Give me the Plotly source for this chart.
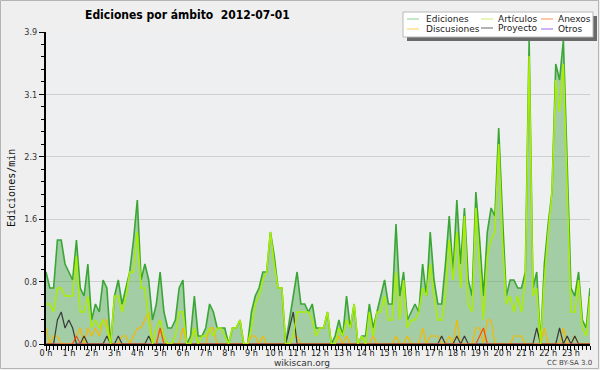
import plotly.graph_objects as go

# ---------------- data (edits per minute, one value per 10-minute slot) ----------------
hour_labels = [f"{h} h" for h in range(24)]
slot_hours = [i / 6 for i in range(144)]

ediciones = [
    0.9, 0.7, 0.7, 1.3, 1.3, 1.0, 0.9, 0.8, 1.3, 0.7,
    0.6, 1.0, 0.3, 0.5, 0.4, 0.8, 0.7, 0.0, 0.6, 0.8,
    0.5, 0.7, 0.9, 1.3, 1.8, 0.8, 1.0, 0.8, 0.3, 0.5,
    0.9, 0.4, 0.2, 0.2, 0.3, 0.7, 0.8, 0.0, 0.1, 0.6,
    0.1, 0.1, 0.2, 0.5, 0.4, 0.2, 0.2, 0.2, 0.0, 0.2,
    0.2, 0.3, 0.0, 0.0, 0.4, 0.6, 0.7, 0.9, 0.9, 1.4,
    1.1, 0.7, 0.7, 0.0, 0.3, 0.6, 0.9, 0.5, 0.5, 0.4,
    0.5, 0.2, 0.2, 0.2, 0.4, 0.0, 0.1, 0.3, 0.1, 0.6,
    0.2, 0.5, 0.0, 0.1, 0.1, 0.5, 0.2, 0.4, 0.6, 0.8,
    0.5, 0.5, 1.5, 0.6, 0.9, 0.3, 0.4, 0.5, 0.4, 1.0,
    0.6, 1.4, 0.8, 0.5, 0.5, 1.0, 1.6, 0.9, 1.8, 1.0,
    1.7, 0.8, 0.6, 1.9, 1.3, 0.6, 1.4, 1.7, 1.6, 2.7,
    1.6, 0.6, 0.8, 0.8, 0.7, 0.7, 0.9, 3.8, 0.7, 0.9,
    0.0, 1.0, 1.5, 1.9, 3.5, 3.3, 3.8, 2.2, 0.7, 0.6,
    0.9, 0.3, 0.2, 0.7,
]

articulos = [
    0.5, 0.5, 0.4, 0.7, 0.7, 0.6, 0.6, 0.6, 1.1, 0.4,
    0.4, 0.6, 0.2, 0.3, 0.2, 0.3, 0.2, 0.0, 0.6, 0.6,
    0.4, 0.6, 0.9, 0.9, 1.4, 0.7, 0.7, 0.3, 0.0, 0.2,
    0.3, 0.1, 0.0, 0.0, 0.1, 0.4, 0.4, 0.0, 0.0, 0.2,
    0.0, 0.1, 0.1, 0.2, 0.1, 0.2, 0.2, 0.1, 0.0, 0.2,
    0.2, 0.3, 0.0, 0.0, 0.2, 0.5, 0.6, 0.8, 0.9, 1.4,
    1.0, 0.7, 0.7, 0.0, 0.0, 0.1, 0.4, 0.4, 0.4, 0.4,
    0.3, 0.1, 0.2, 0.2, 0.4, 0.0, 0.0, 0.2, 0.1, 0.3,
    0.2, 0.5, 0.0, 0.1, 0.0, 0.4, 0.1, 0.4, 0.4, 0.6,
    0.3, 0.3, 0.9, 0.3, 0.8, 0.2, 0.3, 0.3, 0.4, 0.7,
    0.6, 1.0, 0.6, 0.3, 0.3, 0.6, 1.3, 0.8, 1.4, 0.7,
    1.6, 0.5, 0.4, 1.7, 1.0, 0.3, 1.1, 1.3, 1.4, 2.5,
    1.3, 0.5, 0.6, 0.4, 0.6, 0.4, 0.8, 3.6, 0.6, 0.7,
    0.0, 0.8, 1.4, 1.9, 3.3, 2.9, 3.5, 1.9, 0.4, 0.4,
    0.8, 0.2, 0.1, 0.6,
]

discusiones = [
    0.2, 0.0, 0.1, 0.1, 0.0, 0.0, 0.0, 0.0, 0.1, 0.2,
    0.0, 0.2, 0.1, 0.2, 0.1, 0.3, 0.3, 0.0, 0.0, 0.0,
    0.1, 0.1, 0.0, 0.1, 0.2, 0.2, 0.3, 0.4, 0.0, 0.0,
    0.2, 0.0, 0.0, 0.0, 0.0, 0.0, 0.2, 0.0, 0.0, 0.2,
    0.0, 0.0, 0.0, 0.2, 0.2, 0.0, 0.0, 0.0, 0.0, 0.0,
    0.0, 0.0, 0.0, 0.0, 0.1, 0.1, 0.0, 0.1, 0.0, 0.0,
    0.0, 0.0, 0.0, 0.0, 0.0, 0.1, 0.1, 0.0, 0.0, 0.0,
    0.0, 0.0, 0.0, 0.0, 0.0, 0.0, 0.0, 0.1, 0.0, 0.1,
    0.0, 0.0, 0.0, 0.0, 0.0, 0.0, 0.1, 0.0, 0.0, 0.0,
    0.0, 0.0, 0.1, 0.0, 0.0, 0.1, 0.0, 0.0, 0.0, 0.2,
    0.0, 0.1, 0.1, 0.1, 0.0, 0.0, 0.1, 0.0, 0.3, 0.0,
    0.0, 0.0, 0.0, 0.2, 0.2, 0.0, 0.3, 0.3, 0.0, 0.0,
    0.0, 0.0, 0.0, 0.1, 0.1, 0.1, 0.0, 0.0, 0.0, 0.0,
    0.0, 0.2, 0.0, 0.0, 0.0, 0.0, 0.2, 0.0, 0.0, 0.1,
    0.0, 0.0, 0.0, 0.0,
]

proyecto = [
    0.0, 0.0, 0.0, 0.3, 0.4, 0.2, 0.3, 0.2, 0.0, 0.0,
    0.1, 0.0, 0.0, 0.0, 0.0, 0.0, 0.1, 0.0, 0.0, 0.1,
    0.0, 0.0, 0.0, 0.0, 0.0, 0.0, 0.0, 0.1, 0.0, 0.0,
    0.0, 0.0, 0.0, 0.0, 0.0, 0.0, 0.0, 0.0, 0.0, 0.0,
    0.0, 0.0, 0.0, 0.0, 0.0, 0.0, 0.0, 0.0, 0.0, 0.0,
    0.0, 0.0, 0.0, 0.0, 0.0, 0.0, 0.0, 0.0, 0.0, 0.0,
    0.0, 0.0, 0.0, 0.0, 0.2, 0.4, 0.0, 0.0, 0.0, 0.0,
    0.0, 0.0, 0.0, 0.0, 0.0, 0.0, 0.0, 0.0, 0.0, 0.0,
    0.0, 0.0, 0.0, 0.0, 0.0, 0.0, 0.0, 0.0, 0.0, 0.0,
    0.0, 0.0, 0.0, 0.0, 0.0, 0.0, 0.0, 0.0, 0.0, 0.0,
    0.0, 0.0, 0.0, 0.0, 0.1, 0.0, 0.0, 0.0, 0.1, 0.0,
    0.1, 0.0, 0.0, 0.0, 0.0, 0.0, 0.0, 0.0, 0.0, 0.0,
    0.0, 0.0, 0.0, 0.0, 0.0, 0.0, 0.0, 0.0, 0.0, 0.2,
    0.0, 0.0, 0.0, 0.0, 0.0, 0.2, 0.0, 0.1, 0.0, 0.1,
    0.0, 0.0, 0.0, 0.0,
]

anexos = [
    0.0, 0.0, 0.0, 0.0, 0.0, 0.0, 0.0, 0.0, 0.1, 0.0,
    0.0, 0.0, 0.0, 0.0, 0.0, 0.0, 0.0, 0.0, 0.0, 0.0,
    0.0, 0.0, 0.0, 0.0, 0.0, 0.0, 0.0, 0.0, 0.0, 0.0,
    0.2, 0.0, 0.0, 0.0, 0.0, 0.0, 0.0, 0.0, 0.0, 0.0,
    0.0, 0.0, 0.0, 0.0, 0.0, 0.0, 0.0, 0.0, 0.0, 0.0,
    0.0, 0.0, 0.0, 0.0, 0.0, 0.0, 0.0, 0.0, 0.0, 0.0,
    0.0, 0.0, 0.0, 0.0, 0.0, 0.0, 0.0, 0.0, 0.0, 0.0,
    0.0, 0.0, 0.0, 0.0, 0.0, 0.0, 0.0, 0.0, 0.0, 0.0,
    0.0, 0.0, 0.0, 0.0, 0.0, 0.0, 0.0, 0.0, 0.0, 0.0,
    0.0, 0.0, 0.0, 0.0, 0.0, 0.0, 0.0, 0.0, 0.0, 0.0,
    0.0, 0.0, 0.0, 0.0, 0.0, 0.0, 0.0, 0.0, 0.0, 0.0,
    0.0, 0.0, 0.0, 0.0, 0.1, 0.2, 0.0, 0.0, 0.0, 0.0,
    0.0, 0.0, 0.0, 0.0, 0.0, 0.0, 0.0, 0.0, 0.0, 0.0,
    0.0, 0.0, 0.0, 0.0, 0.0, 0.0, 0.0, 0.0, 0.0, 0.0,
    0.0, 0.0, 0.0, 0.0,
]

otros = [
    0.0, 0.0, 0.0, 0.0, 0.0, 0.0, 0.0, 0.0, 0.0, 0.0,
    0.0, 0.0, 0.0, 0.0, 0.0, 0.0, 0.0, 0.0, 0.0, 0.0,
    0.0, 0.0, 0.0, 0.0, 0.0, 0.0, 0.0, 0.0, 0.0, 0.0,
    0.0, 0.0, 0.0, 0.0, 0.0, 0.0, 0.0, 0.0, 0.0, 0.0,
    0.0, 0.0, 0.0, 0.0, 0.0, 0.0, 0.0, 0.0, 0.0, 0.0,
    0.0, 0.0, 0.0, 0.0, 0.0, 0.0, 0.0, 0.0, 0.0, 0.0,
    0.0, 0.0, 0.0, 0.0, 0.0, 0.0, 0.0, 0.0, 0.0, 0.0,
    0.0, 0.0, 0.0, 0.0, 0.0, 0.0, 0.0, 0.0, 0.0, 0.0,
    0.0, 0.0, 0.0, 0.0, 0.0, 0.0, 0.0, 0.0, 0.0, 0.0,
    0.0, 0.0, 0.0, 0.0, 0.0, 0.0, 0.0, 0.0, 0.0, 0.0,
    0.0, 0.0, 0.0, 0.0, 0.0, 0.0, 0.0, 0.0, 0.0, 0.0,
    0.0, 0.0, 0.0, 0.0, 0.0, 0.0, 0.0, 0.0, 0.0, 0.0,
    0.0, 0.0, 0.0, 0.0, 0.0, 0.0, 0.0, 0.0, 0.0, 0.0,
    0.0, 0.0, 0.0, 0.0, 0.0, 0.0, 0.0, 0.0, 0.0, 0.0,
    0.0, 0.0, 0.0, 0.0,
]

y_tick_values = [0.0, 0.78, 1.56, 2.34, 3.12, 3.9]
y_tick_labels = ["0.0", "0.8", "1.6", "2.3", "3.1", "3.9"]

series_names = ["Ediciones", "Artículos", "Anexos", "Discusiones", "Proyecto", "Otros"]

# ---------------- layout geometry ----------------
W, H = 600, 370
L, R, T, B = 46, 10, 32, 26
PW, PH = W - L - R, H - T - B


def px(x):
    return (x - L) / PW


def py(y):
    return (H - B - y) / PH


fig = go.Figure()

fig.add_trace(go.Scatter(
    x=slot_hours, y=ediciones, mode="lines", name="Ediciones",
    line=dict(color="#3aa635", width=1.6), fill="tozeroy",
    fillcolor="rgba(70,165,70,0.45)"))
fig.add_trace(go.Scatter(
    x=slot_hours, y=otros, mode="lines", name="Otros",
    line=dict(color="#9a55ee", width=1)))
fig.add_trace(go.Scatter(
    x=slot_hours, y=discusiones, mode="lines", name="Discusiones",
    line=dict(color="#f6b800", width=1.2)))
fig.add_trace(go.Scatter(
    x=slot_hours, y=proyecto, mode="lines", name="Proyecto",
    line=dict(color="#3a3a3a", width=1.2)))
fig.add_trace(go.Scatter(
    x=slot_hours, y=anexos, mode="lines", name="Anexos",
    line=dict(color="#f05018", width=1.2)))
fig.add_trace(go.Scatter(
    x=slot_hours, y=articulos, mode="lines", name="Artículos",
    line=dict(color="#aaee00", width=1.5)))

fig.update_layout(
    width=W, height=H,
    margin=dict(l=L, r=R, t=T, b=B, pad=0),
    paper_bgcolor="#efefef",
    plot_bgcolor="#eeeff1",
    showlegend=False,
    hovermode=False,
    font=dict(family="DejaVu Sans Condensed, DejaVu Sans", color="#222"),
    xaxis=dict(
        range=[0, 143 / 6], tickmode="array",
        tickvals=list(range(24)), ticktext=hour_labels,
        ticks="outside", ticklen=5, tickwidth=1, tickcolor="#000",
        showline=True, linecolor="#000", linewidth=2,
        showgrid=False, zeroline=False,
        ticklabelstandoff=-6,
        tickfont=dict(size=9, color="#222"),
        minor=dict(tickvals=slot_hours, ticks="outside", ticklen=4,
                   tickwidth=1, tickcolor="#000", showgrid=False),
    ),
    yaxis=dict(
        range=[0, 3.9], tickmode="array",
        tickvals=y_tick_values, ticktext=y_tick_labels,
        ticks="outside", ticklen=5, tickwidth=1, tickcolor="#000",
        showline=True, linecolor="#000", linewidth=2,
        showgrid=True, gridcolor="#cfcfcf", gridwidth=1, zeroline=False,
        tickfont=dict(size=9, color="#333"),
        minor=dict(tickvals=[k * 0.156 for k in range(26)], ticks="outside",
                   ticklen=3, tickwidth=1, tickcolor="#000", showgrid=False),
    ),
)

shapes = []
annotations = []

# outer border
shapes.append(dict(type="rect", xref="paper", yref="paper",
                   x0=px(0.5), x1=px(W - 1.5), y0=py(0.5), y1=py(H - 1.5),
                   line=dict(color="#b4b4b4", width=1), fillcolor="rgba(0,0,0,0)",
                   layer="above"))

# legend box with shadow
bx0, bx1, by0, by1 = 403, 593, 12, 37
shapes.append(dict(type="rect", xref="paper", yref="paper",
                   x0=px(bx0 + 4), x1=px(bx1 + 4), y0=py(by0 + 4), y1=py(by1 + 4),
                   line=dict(width=0), fillcolor="#6a6a6a", layer="above"))
shapes.append(dict(type="rect", xref="paper", yref="paper",
                   x0=px(bx0), x1=px(bx1), y0=py(by0), y1=py(by1),
                   line=dict(color="#b8b8b8", width=1), fillcolor="#ffffff",
                   layer="above"))

legend_items = [
    ("Ediciones", "#8fd08f", 407, 424, 19),
    ("Artículos", "#cdee70", 481, 496, 19),
    ("Anexos", "#ff8a5a", 541, 556, 19),
    ("Discusiones", "#ffcf55", 407, 424, 29),
    ("Proyecto", "#666666", 481, 496, 28),
    ("Otros", "#9c66ee", 541, 556, 29),
]
for name, color, lx, tx, ly in legend_items:
    shapes.append(dict(type="line", xref="paper", yref="paper",
                       x0=px(lx), x1=px(lx + 12), y0=py(ly), y1=py(ly),
                       line=dict(color=color, width=1), layer="above"))
    annotations.append(dict(text=name, xref="paper", yref="paper",
                            x=px(tx), y=py(ly), xanchor="left", yanchor="middle",
                            showarrow=False,
                            font=dict(family="DejaVu Sans", size=9, color="#222")))

# title
annotations.append(dict(text="<b>Ediciones por ámbito  2012-07-01</b>",
                        xref="paper", yref="paper", x=px(187), y=py(15),
                        xanchor="center", yanchor="middle", showarrow=False,
                        font=dict(family="DejaVu Sans Condensed, DejaVu Sans",
                                  size=12, color="#000")))
# y axis title
annotations.append(dict(text="Ediciones/min", xref="paper", yref="paper",
                        x=px(11), y=py(188), textangle=-90,
                        xanchor="center", yanchor="middle", showarrow=False,
                        font=dict(family="DejaVu Sans Mono", size=10, color="#111")))
# footer texts
annotations.append(dict(text="wikiscan.org", xref="paper", yref="paper",
                        x=px(302), y=py(363), xanchor="center", yanchor="middle",
                        showarrow=False,
                        font=dict(family="DejaVu Sans", size=9, color="#333")))
annotations.append(dict(text="CC BY-SA 3.0", xref="paper", yref="paper",
                        x=px(569), y=py(363), xanchor="center", yanchor="middle",
                        showarrow=False,
                        font=dict(family="DejaVu Sans", size=7, color="#444")))

fig.update_layout(shapes=shapes, annotations=annotations)

fig.write_html(
    "out.html",
    config={"displayModeBar": False, "staticPlot": True},
    post_script="document.body.style.margin='0';document.body.style.padding='0';",
)
